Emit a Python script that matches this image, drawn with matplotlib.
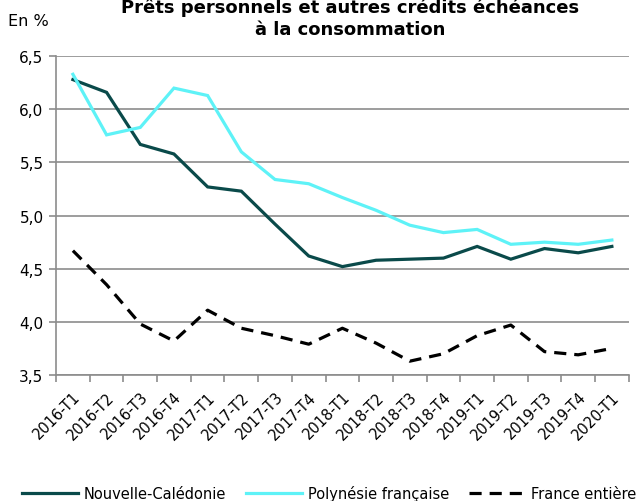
import matplotlib
matplotlib.use("Agg")
import matplotlib.pyplot as plt
import numpy as np

quarters = ["2016-T1", "2016-T2", "2016-T3", "2016-T4",
            "2017-T1", "2017-T2", "2017-T3", "2017-T4",
            "2018-T1", "2018-T2", "2018-T3", "2018-T4",
            "2019-T1", "2019-T2", "2019-T3", "2019-T4", "2020-T1"]

nouvelle_caledonie = [6.28, 6.16, 5.67, 5.58, 5.27, 5.23, 4.92, 4.62,
                      4.52, 4.58, 4.59, 4.60, 4.71, 4.59, 4.69, 4.65, 4.71]
polynesie = [6.33, 5.76, 5.83, 6.20, 6.13, 5.60, 5.34, 5.30,
             5.17, 5.05, 4.91, 4.84, 4.87, 4.73, 4.75, 4.73, 4.77]
france = [4.67, 4.35, 3.98, 3.82, 4.11, 3.94, 3.87, 3.79,
          3.94, 3.80, 3.63, 3.70, 3.87, 3.97, 3.72, 3.69, 3.75]

yticks = [3.5, 4.0, 4.5, 5.0, 5.5, 6.0, 6.5]

GRID = "#8c8c8c"

fig = plt.figure(figsize=(6.37, 5.02), dpi=100)
ax = fig.add_axes([0.088, 0.251, 0.899, 0.635])

x = np.arange(len(quarters))
ax.plot(x, nouvelle_caledonie, color="#0a4a4a", lw=2.3, label="Nouvelle-Calédonie",
        solid_joinstyle="miter")
ax.plot(x, polynesie, color="#5ef2f7", lw=2.3, label="Polynésie française",
        solid_joinstyle="miter")
ax.plot(x, france, color="black", lw=2.3, ls=(0, (3.8, 2.5)), label="France entière")

ax.set_xlim(-0.5, len(quarters) - 0.5)
ax.set_ylim(3.5, 6.5)
ax.set_yticks(yticks)
ax.set_yticklabels([f"{v:.1f}".replace(".", ",") for v in yticks], fontsize=11)
ax.yaxis.grid(True, color=GRID, lw=1.2)
ax.set_axisbelow(True)

ax.set_xticks(x)
ax.set_xticklabels(quarters, rotation=45, ha="right", rotation_mode="anchor", fontsize=10.5)
ax.tick_params(axis="x", length=0, pad=10)
ax.set_xticks(np.arange(-0.5, len(quarters)), minor=True)
ax.tick_params(axis="x", which="minor", length=5, color=GRID, width=1.2)
ax.tick_params(axis="y", length=5, color=GRID, width=1.2, pad=4)

for s in ["top", "right"]:
    ax.spines[s].set_visible(False)
for s in ["left", "bottom"]:
    ax.spines[s].set_color(GRID)
    ax.spines[s].set_linewidth(1.2)

fig.text(0.55, 0.963, "Prêts personnels et autres crédits échéances\nà la consommation",
         ha="center", va="center", fontsize=13, fontweight="bold", linespacing=1.3)
fig.text(0.012, 0.957, "En %", ha="left", va="center", fontsize=11.5)

fig.legend(loc="center", bbox_to_anchor=(0.5165, 0.016), ncol=3, frameon=False,
           fontsize=10.5, handlelength=3.85, columnspacing=1.35, handletextpad=0.4,
           borderpad=0, borderaxespad=0)

fig.savefig("out.png", dpi=100)
